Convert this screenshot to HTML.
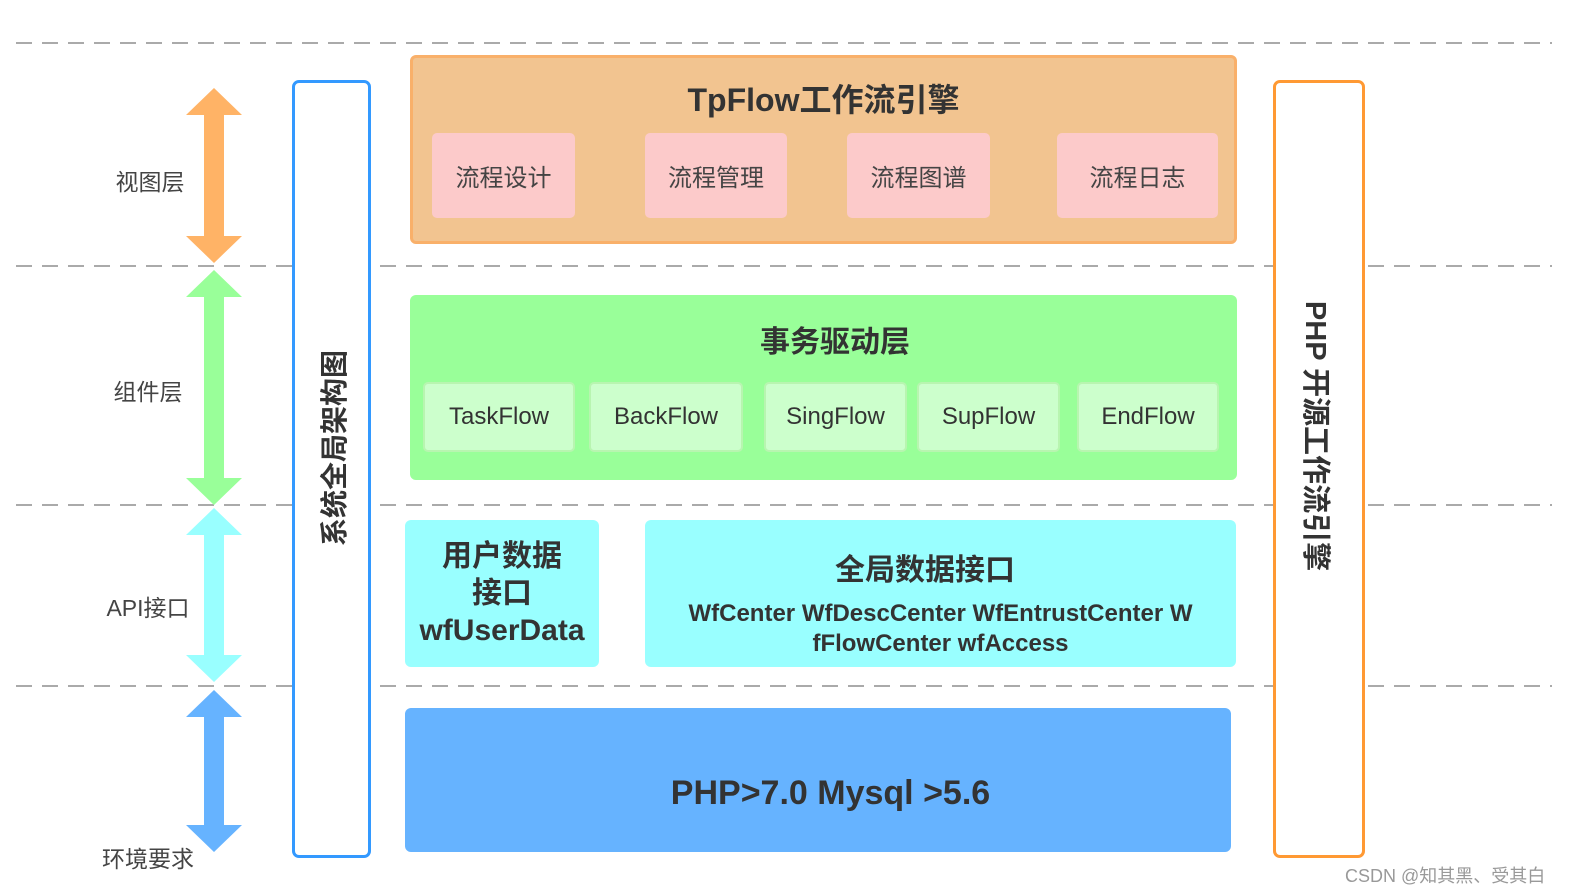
<!DOCTYPE html>
<html><head><meta charset="utf-8"><style>
body{margin:0;width:1572px;height:896px;background:#fff;position:relative;overflow:hidden;font-family:"Liberation Sans","Noto Sans CJK SC",sans-serif;}
.a{position:absolute;box-sizing:border-box;}
.c{display:flex;align-items:center;justify-content:center;text-align:center;}
.lab{position:absolute;font-size:23px;color:#444;transform:translate(-50%,-50%);white-space:nowrap;}
.pk{background:#fccaca;border-radius:5px;font-size:24px;color:#444;top:133px;height:85px;}
.gs{background:#ccffcc;border:2px solid #b8f5b0;border-radius:5px;font-size:24px;color:#333;top:382px;height:70px;}
.b{font-weight:bold;color:#333;}
</style></head><body>
<svg class="a" style="left:0;top:0" width="1572" height="896">
<g stroke="#aaa" stroke-width="2" stroke-dasharray="16 10">
<line x1="16" y1="43" x2="1552" y2="43"/>
<line x1="16" y1="266" x2="1552" y2="266"/>
<line x1="16" y1="505" x2="1552" y2="505"/>
<line x1="16" y1="686" x2="1552" y2="686"/>
</g>
<polygon fill="#ffb366" points="214,88 242,115 224,115 224,236 242,236 214,263 186,236 204,236 204,115 186,115"/>
<polygon fill="#99ff99" points="214,270 242,297 224,297 224,478 242,478 214,505 186,478 204,478 204,297 186,297"/>
<polygon fill="#99ffff" points="214,508 242,535 224,535 224,655 242,655 214,682 186,655 204,655 204,535 186,535"/>
<polygon fill="#66b3ff" points="214,690 242,717 224,717 224,825 242,825 214,852 186,825 204,825 204,717 186,717"/>
</svg>
<div class="lab" style="left:150px;top:180px">视图层</div>
<div class="lab" style="left:148px;top:390px">组件层</div>
<div class="lab" style="left:148px;top:606px">API接口</div>
<div class="lab" style="left:148px;top:857px">环境要求</div>

<div class="a" style="left:292px;top:80px;width:79px;height:778px;border:3px solid #3399ff;border-radius:7px;background:#fff"></div>
<div class="a b" style="left:333px;top:448px;transform:translate(-50%,-50%) rotate(-90deg);font-size:28px;white-space:nowrap">系统全局架构图</div>

<div class="a" style="left:1273px;top:80px;width:92px;height:778px;border:3px solid #ff9933;border-radius:7px;background:#fff"></div>
<div class="a b" style="left:1318px;top:436px;transform:translate(-50%,-50%) rotate(90deg);font-size:29px;white-space:nowrap">PHP 开源工作流引擎</div>

<div class="a" style="left:410px;top:55px;width:827px;height:189px;background:#f2c490;border:3px solid #f9b06a;border-radius:6px"></div>
<div class="a c b" style="left:410px;top:76px;width:827px;height:44px;font-size:32px">TpFlow工作流引擎</div>
<div class="a c pk" style="left:432px;width:143px">流程设计</div>
<div class="a c pk" style="left:645px;width:142px">流程管理</div>
<div class="a c pk" style="left:847px;width:143px">流程图谱</div>
<div class="a c pk" style="left:1057px;width:161px">流程日志</div>

<div class="a" style="left:410px;top:295px;width:827px;height:185px;background:#99ff99;border-radius:6px"></div>
<div class="a c b" style="left:410px;top:318px;width:850px;height:42px;font-size:30px">事务驱动层</div>
<div class="a c gs" style="left:423px;width:152px">TaskFlow</div>
<div class="a c gs" style="left:589px;width:154px">BackFlow</div>
<div class="a c gs" style="left:764px;width:143px">SingFlow</div>
<div class="a c gs" style="left:917px;width:143px">SupFlow</div>
<div class="a c gs" style="left:1077px;width:142px">EndFlow</div>

<div class="a c b" style="left:405px;top:520px;width:194px;height:147px;background:#99ffff;border-radius:6px;font-size:30px;line-height:37px;flex-direction:column">用户数据<br>接口<br>wfUserData</div>
<div class="a" style="left:645px;top:520px;width:591px;height:147px;background:#99ffff;border-radius:6px"></div>
<div class="a c b" style="left:645px;top:546px;width:560px;height:42px;font-size:30px">全局数据接口</div>
<div class="a b" style="left:645px;top:599px;width:591px;text-align:center;font-size:24px;line-height:30px">WfCenter WfDescCenter WfEntrustCenter W<br>fFlowCenter wfAccess</div>

<div class="a c b" style="left:405px;top:708px;width:826px;height:144px;background:#66b3ff;border-radius:6px;font-size:34px;padding-left:25px;padding-top:26px">PHP&gt;7.0 Mysql &gt;5.6</div>

<div class="a" style="left:1345px;top:862px;font-size:18px;color:#999;white-space:nowrap">CSDN @知其黑、受其白</div>
</body></html>
